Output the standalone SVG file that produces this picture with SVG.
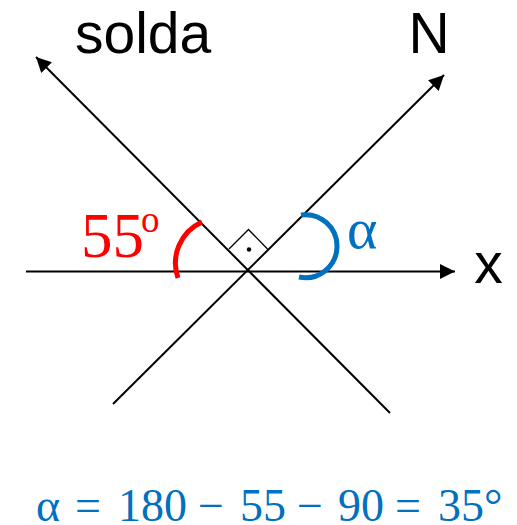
<svg xmlns="http://www.w3.org/2000/svg" width="517" height="525" viewBox="0 0 517 525">
<style>
.ln{stroke:#000;stroke-width:2;fill:none}
.lbl{font-family:"Liberation Sans",Arial,sans-serif;font-size:57px;fill:#000}
.ser{font-family:"Liberation Serif","Times New Roman",serif}
.blue{fill:#0070C0}
.red{fill:#FF0000}
</style>
<defs>
<marker id="ah" markerUnits="userSpaceOnUse" markerWidth="15" markerHeight="15" refX="15" refY="7.5" orient="auto">
<path d="M0,0 L15,7.5 L0,15 z" fill="#000"/>
</marker>
</defs>
<rect width="517" height="525" fill="#fff"/>
<g id="connectors">
<line class="ln" x1="26" y1="271.5" x2="455" y2="271.5" marker-end="url(#ah)"/>
<line class="ln" x1="390" y1="413" x2="36" y2="57" marker-end="url(#ah)"/>
<line class="ln" x1="113" y1="404" x2="444" y2="75" marker-end="url(#ah)"/>
</g>
<g id="right-angle">
<polyline points="229,249 248.5,229.5 267.5,249" fill="none" stroke="#000" stroke-width="1.3"/>
<circle cx="249" cy="249.5" r="2.2" fill="#000"/>
</g>
<g id="angle-55">
<path d="M202,222 A45,45 0 0 0 178,278" fill="none" stroke="#FF0000" stroke-width="5"/>
<text class="ser red" x="81" y="257" font-size="63">55</text>
<text class="ser red" x="141" y="232" font-size="37">o</text>
</g>
<g id="angle-alpha">
<path d="M301,215 A31.5,31.5 0 1 1 299,277" fill="none" stroke="#0070C0" stroke-width="5"/>
<text class="ser blue" x="347" y="248" font-size="58">α</text>
</g>
<g id="label-solda"><text class="lbl" x="75" y="53">solda</text></g>
<g id="label-N"><text class="lbl" x="408.5" y="53">N</text></g>
<g id="label-x"><text class="lbl" x="488.5" y="283" text-anchor="middle">x</text></g>
<g id="equation">
<text class="ser blue" y="521" font-size="46"><tspan x="36">α</tspan><tspan x="75">=</tspan><tspan x="118">180</tspan><tspan x="198">−</tspan><tspan x="240">55</tspan><tspan x="297">−</tspan><tspan x="338">90</tspan><tspan x="395">=</tspan><tspan x="438">35°</tspan></text>
</g>
</svg>
